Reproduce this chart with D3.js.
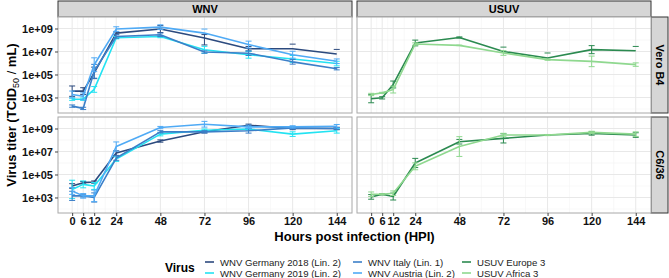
<!DOCTYPE html>
<html><head><meta charset="utf-8">
<script src="https://cdn.jsdelivr.net/npm/d3@7"></script>
<style>body{margin:0;background:#fff}svg{display:block;font-family:"Liberation Sans",Arial,sans-serif}</style>
</head><body><svg id="c" width="669" height="278"></svg>
<script>
const hpi = [0, 6, 12, 24, 48, 72, 96, 120, 144];
const xTicks = [0, 6, 12, 24, 48, 72, 96, 120, 144];
const yTicks = [1e3, 1e5, 1e7, 1e9];
const yTickLabels = ["1e+03", "1e+05", "1e+07", "1e+09"];
const viruses = ["WNV Germany 2018 (Lin. 2)", "WNV Germany 2019 (Lin. 2)", "WNV Italy (Lin. 1)", "WNV Austria (Lin. 2)", "USUV Europe 3", "USUV Africa 3"];
const virusColors = ["#2c4a7e", "#22e3f2", "#3b7fc8", "#4faaf5", "#2b8a50", "#8fd88f"];
const families = ["WNV", "USUV"];
const cells = ["Vero B4", "C6/36"];
const familyMembers = [[0, 1, 2, 3], [4, 5]];

// log10 titers, per series (order follows familyMembers)
const veroWNV = [
  [3.55, 3.55, 5.14, 8.6, 8.95, 8.17, 7.24, 7.24, 6.78],
  [2.85, 2.85, 3.7, 8.2, 8.3, 7.15, 6.72, 6.35, 5.95],
  [2.25, 2.05, 5.28, 8.3, 8.45, 6.95, 6.85, 6.1, 5.5],
  [3.26, 3.1, 5.85, 8.95, 9.12, 8.6, 7.6, 6.72, 6.15]
];
const veroWNVUp = [
  [0.45, 0.3, 0.5, 0.1, 0.3, 0.3, 0.2, 0.4, 0.4],
  [0.1, 0.1, 0.25, 0.1, 0.1, 0.3, 0.3, 0.3, 0.2],
  [0.1, 0.1, 0.6, 0.15, 0.15, 0.1, 0.2, 0.2, 0.1],
  [0.3, 0.3, 0.6, 0.2, 0.2, 0.35, 0.3, 0.3, 0.2]
];
const veroWNVLow = [
  [0.45, 0.3, 0.5, 0.1, 0.3, 0.6, 0.2, null, null],
  [0.1, 0.1, 0.25, 0.1, 0.1, 0.3, 0.3, 0.3, 0.2],
  [0.1, 0.1, 0.6, 0.15, 0.15, 0.1, 0.2, 0.2, 0.1],
  [0.3, 0.3, 0.6, 0.2, 0.2, null, 0.3, 0.3, 0.2]
];
const c636WNV = [
  [4.0, 4.29, 4.34, 6.86, 7.91, 8.71, 9.28, 9.0, 9.0],
  [3.7, 4.14, 4.0, 6.34, 8.51, 8.85, 8.95, 8.51, 8.8],
  [3.14, 3.14, 3.0, 6.43, 8.71, 8.71, 8.8, 9.05, 9.0],
  [3.57, 3.14, 3.14, 7.43, 9.08, 9.37, 9.14, 9.14, 9.2]
];
const c636WNVUp = [
  [0.2, 0.1, 0.1, 0.2, 0.1, 0.1, 0.1, 0.1, 0.1],
  [0.8, 0.3, 0.3, 0.2, 0.15, 0.1, 0.1, 0.2, 0.2],
  [0.4, 0.1, 0.4, 0.2, 0.1, 0.1, 0.2, 0.1, 0.1],
  [0.3, 0.2, 0.5, 0.4, 0.1, 0.25, 0.15, 0.1, 0.15]
];
const veroUSUV = [
  [2.89, 2.97, 4.13, 7.74, 8.22, 7.0, 6.44, 7.16, 7.07],
  [3.26, 3.4, 3.69, 7.65, 7.53, 6.87, 6.29, 6.14, 5.86]
];
const veroUSUVUp = [
  [0.35, 0.1, 0.3, 0.25, 0.05, 0.38, 0.43, 0.35, 0.37],
  [0.1, 0.05, 0.3, 0.1, 0.02, 0.2, 0.05, 0.46, 0.15]
];
const veroUSUVLow = [
  [0.35, 0.1, 0.3, 0.25, 0.05, null, null, 0.35, null],
  [0.1, 0.05, 0.3, 0.1, 0.02, 0.2, 0.05, 0.46, 0.15]
];
const c636USUV = [
  [3.05, 3.28, 3.08, 6.0, 7.85, 8.14, 8.43, 8.57, 8.43],
  [3.28, 3.28, 3.37, 5.71, 7.43, 8.43, 8.43, 8.66, 8.51]
];
const c636USUVUp = [
  [0.2, 0.05, 0.3, 0.4, 0.2, 0.4, 0.02, 0.15, 0.2],
  [0.2, 0.05, 0.2, 0.3, 0.86, 0.15, 0.05, 0.1, 0.2]
];

const panelSeries = [[veroWNV, veroUSUV], [c636WNV, c636USUV]];
const panelUp = [[veroWNVUp, veroUSUVUp], [c636WNVUp, c636USUVUp]];
const panelLow = [[veroWNVLow, veroUSUVLow], [c636WNVUp, c636USUVUp]];

const svg = d3.select("#c");
const L = 58, pw = 294, gapX = 5, T = 17, ph = 96, gapY = 4, stripH = 16, stripW = 17;
const colX = [L, L + pw + gapX];
const rowY = [T, T + ph + gapY];
const x = d3.scaleLinear().domain([-7.7, 152.3]);
const y = d3.scaleLog().domain([Math.pow(10, 1.65), 1e10]).range([ph, 0]);

const xMinor = [3, 9, 18, 36, 60, 84, 108, 132];
const yMinor = [1e2, 1e4, 1e6, 1e8, 1e10];

// strips on top
families.forEach((f, c) => {
  const g = svg.append("g").attr("transform", `translate(${colX[c]},${T - stripH})`);
  g.append("rect").attr("width", pw).attr("height", stripH).attr("fill", "#d6d6d6").attr("stroke", "#333").attr("stroke-width", 1);
  g.append("text").attr("x", pw / 2).attr("y", stripH / 2 + 4).attr("text-anchor", "middle").attr("font-size", 11).attr("font-weight", "bold").text(f);
});
cells.forEach((cl, r) => {
  const g = svg.append("g").attr("transform", `translate(${colX[1] + pw},${rowY[r]})`);
  g.append("rect").attr("width", stripW).attr("height", ph).attr("fill", "#d6d6d6").attr("stroke", "#333").attr("stroke-width", 1);
  g.append("text").attr("transform", `translate(${stripW / 2 - 4},${ph / 2}) rotate(90)`).attr("text-anchor", "middle").attr("font-size", 11).attr("font-weight", "bold").text(cl);
});

for (let r = 0; r < 2; r++) {
  for (let c = 0; c < 2; c++) {
    const xs = x.copy().range([0, pw]);
    const g = svg.append("g").attr("transform", `translate(${colX[c]},${rowY[r]})`);
    g.append("rect").attr("width", pw).attr("height", ph).attr("fill", "#fff");
    // minor grid
    g.selectAll(".xm").data(xMinor).join("line").attr("x1", d => xs(d)).attr("x2", d => xs(d)).attr("y1", 0).attr("y2", ph).attr("stroke", "#f3f3f3").attr("stroke-width", 0.6);
    g.selectAll(".ym").data(yMinor).join("line").attr("x1", 0).attr("x2", pw).attr("y1", d => y(d)).attr("y2", d => y(d)).attr("stroke", "#f3f3f3").attr("stroke-width", 0.6);
    // major grid
    g.selectAll(".xg").data(xTicks).join("line").attr("x1", d => xs(d)).attr("x2", d => xs(d)).attr("y1", 0).attr("y2", ph).attr("stroke", "#e8e8e8").attr("stroke-width", 1);
    g.selectAll(".yg").data(yTicks).join("line").attr("x1", 0).attr("x2", pw).attr("y1", d => y(d)).attr("y2", d => y(d)).attr("stroke", "#e8e8e8").attr("stroke-width", 1);

    const series = panelSeries[r][c], ups = panelUp[r][c], lows = panelLow[r][c];
    const mem = familyMembers[c];
    const lx = d3.line().x(d => xs(d[0])).y(d => y(Math.pow(10, d[1])));
    series.forEach((vals, i) => {
      const col = virusColors[mem[i]];
      const pts = hpi.map((h, k) => [h, vals[k]]);
      // error bars
      pts.forEach((p, k) => {
        const up = ups[i][k], lo = lows[i][k];
        const cx = xs(p[0]);
        const yu = y(Math.pow(10, p[1] + up));
        g.append("line").attr("x1", cx - 3).attr("x2", cx + 3).attr("y1", yu).attr("y2", yu).attr("stroke", col).attr("stroke-width", 1);
        if (lo !== null) {
          const yl = y(Math.pow(10, p[1] - lo));
          g.append("line").attr("x1", cx).attr("x2", cx).attr("y1", yu).attr("y2", yl).attr("stroke", col).attr("stroke-width", 1);
          g.append("line").attr("x1", cx - 3).attr("x2", cx + 3).attr("y1", yl).attr("y2", yl).attr("stroke", col).attr("stroke-width", 1);
        }
      });
      g.append("path").datum(pts).attr("d", lx).attr("fill", "none").attr("stroke", col).attr("stroke-width", 1.6).attr("stroke-linejoin", "round");
    });
    g.append("rect").attr("width", pw).attr("height", ph).attr("fill", "none").attr("stroke", "#a8a8a8").attr("stroke-width", 1);

    if (c === 0) {
      const ax = g.append("g").call(d3.axisLeft(y).tickValues(yTicks).tickFormat((d, i) => yTickLabels[i]).tickSize(3).tickPadding(2));
      ax.select(".domain").remove();
      ax.selectAll(".tick line").attr("stroke", "#444");
      ax.selectAll("text").attr("font-size", 11).attr("font-weight", "bold").attr("fill", "#111").attr("font-family", "Liberation Sans, Arial, sans-serif");
    }
    if (r === 1) {
      const ax = g.append("g").attr("transform", `translate(0,${ph})`).call(d3.axisBottom(xs).tickValues(xTicks).tickSize(3).tickPadding(1));
      ax.select(".domain").remove();
      ax.selectAll(".tick line").attr("stroke", "#444");
      ax.selectAll("text").attr("font-size", 11).attr("font-weight", "bold").attr("fill", "#111").attr("font-family", "Liberation Sans, Arial, sans-serif");
    }
  }
}

// axis titles
svg.append("text").attr("x", L + (2 * pw + gapX) / 2).attr("y", 241).attr("text-anchor", "middle").attr("font-size", 13).attr("font-weight", "bold").text("Hours post infection (HPI)");
const yt = svg.append("text").attr("transform", `translate(16,${T + ph + gapY / 2}) rotate(-90)`).attr("text-anchor", "middle").attr("font-size", 13).attr("font-weight", "bold");
yt.append("tspan").text("Virus titer (TCID");
yt.append("tspan").attr("font-size", 9).attr("font-weight", "normal").attr("dy", 3).text("50");
yt.append("tspan").attr("dy", -3).attr("font-weight", "normal").text(" / ");
yt.append("tspan").text("mL)");

// legend
svg.append("text").attr("x", 165).attr("y", 272).attr("font-size", 12).attr("font-weight", "bold").text("Virus");
const legCols = [205, 353, 462];
const legRows = [262, 273];
viruses.forEach((v, i) => {
  const cx = legCols[Math.floor(i / 2)], cy = legRows[i % 2];
  svg.append("line").attr("x1", cx).attr("x2", cx + 9).attr("y1", cy).attr("y2", cy).attr("stroke", virusColors[i]).attr("stroke-width", 1.6);
  svg.append("text").attr("x", cx + 15).attr("y", cy + 3.5).attr("font-size", 9.6).attr("fill", "#222").text(v);
});
</script></body></html>
